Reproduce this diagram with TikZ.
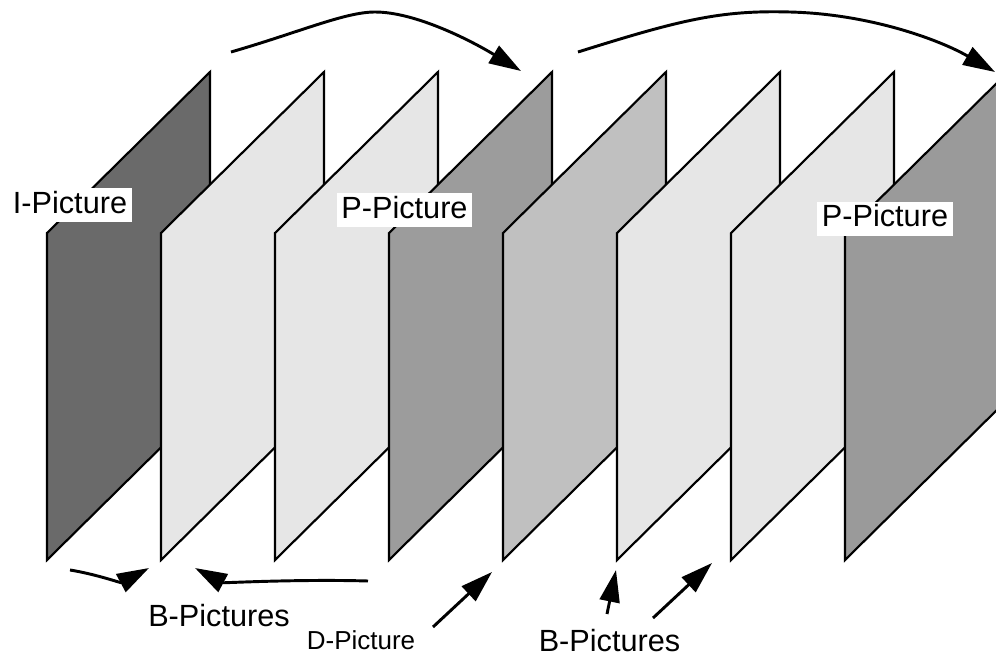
\documentclass[tikz,border=0pt]{standalone}
\usepackage{fontspec}
\setmainfont{Liberation Sans}
\usetikzlibrary{arrows.meta}
\definecolor{iframe}{HTML}{6A6A6A}
\definecolor{bframe}{HTML}{E6E6E6}
\definecolor{pframe}{HTML}{9C9C9C}
\definecolor{dframe}{HTML}{C0C0C0}
\definecolor{plast}{HTML}{9A9A9A}
\begin{document}
\begin{tikzpicture}[x=0.75pt,y=-0.75pt,
  frame/.style={draw=black, line width=1.6pt, line join=miter},
  tag/.style={fill=white, inner xsep=3.5pt, inner ysep=0pt,
    text height=18.75pt, text depth=6.75pt, font=\fontsize{23}{27}\selectfont},
  caption/.style={anchor=base, inner sep=0pt, font=\fontsize{23}{27}\selectfont},
  small caption/.style={caption, font=\fontsize{19.5}{23}\selectfont},
  ref/.style={line width=2.2pt, -{Triangle[length=24pt,width=15pt]}}]
\useasboundingbox (0,0) rectangle (996,657);
\clip (0,0) rectangle (996,657);

% picture sequence: eight slanted frames, front one drawn last
\foreach \c [count=\i from 0] in {iframe,bframe,bframe,pframe,dframe,bframe,bframe,plast} {
  \pgfmathsetmacro\fx{47+114*\i}
  \filldraw[frame, fill=\c] (\fx,560) -- (\fx,233) -- ++(163,-161) -- ++(0,327) -- cycle;
}

% frame labels
\node[tag] (ipic)  at (70,205)    {I-Picture};
\node[tag] (ppic1) at (404.5,210) {P-Picture};
\node[tag] (ppic2) at (885,218.5) {P-Picture};
\node[caption] (bpic1) at (219,626)   {B-Pictures};
\node[small caption] (dpic) at (361,649) {D-Picture};
\node[caption] (bpic2) at (609.5,651) {B-Pictures};

% reference arrow end points
\coordinate (fwdA0) at (231,52);
\coordinate (fwdAtop) at (375,12);
\coordinate (fwdA1) at (521,71);
\coordinate (fwdB0) at (578,52);
\coordinate (fwdBtop) at (790,12);
\coordinate (fwdB1) at (995,72);
\coordinate (bwdA0) at (70,570);
\coordinate (bwdA1) at (149,568);
\coordinate (bwdB0) at (368,581);
\coordinate (bwdB1) at (195,568);
\coordinate (dref0) at (433,627);
\coordinate (dref1) at (492,572);
\coordinate (bref0) at (607,614);
\coordinate (bref1) at (616,570);
\coordinate (cref0) at (653,618);
\coordinate (cref1) at (712,563);

% forward prediction arcs
\draw[ref] (fwdA0) .. controls (300,32) and (345,12) .. (fwdAtop)
           .. controls (415,12) and (470,40) .. (fwdA1);
\draw[ref] (fwdB0) .. controls (680,20) and (720,10) .. (fwdBtop)
           .. controls (870,14) and (940,40) .. (fwdB1);

% arrows under the frames
\draw[ref] (bwdA0) .. controls (95,574) and (121,583) .. (bwdA1);
\draw[ref] (bwdB0) .. controls (300,579) and (223,583) .. (bwdB1);
\draw[ref] (dref0) -- (dref1);
\draw[ref] (bref0) -- (bref1);
\draw[ref] (cref0) -- (cref1);
\end{tikzpicture}
\end{document}
